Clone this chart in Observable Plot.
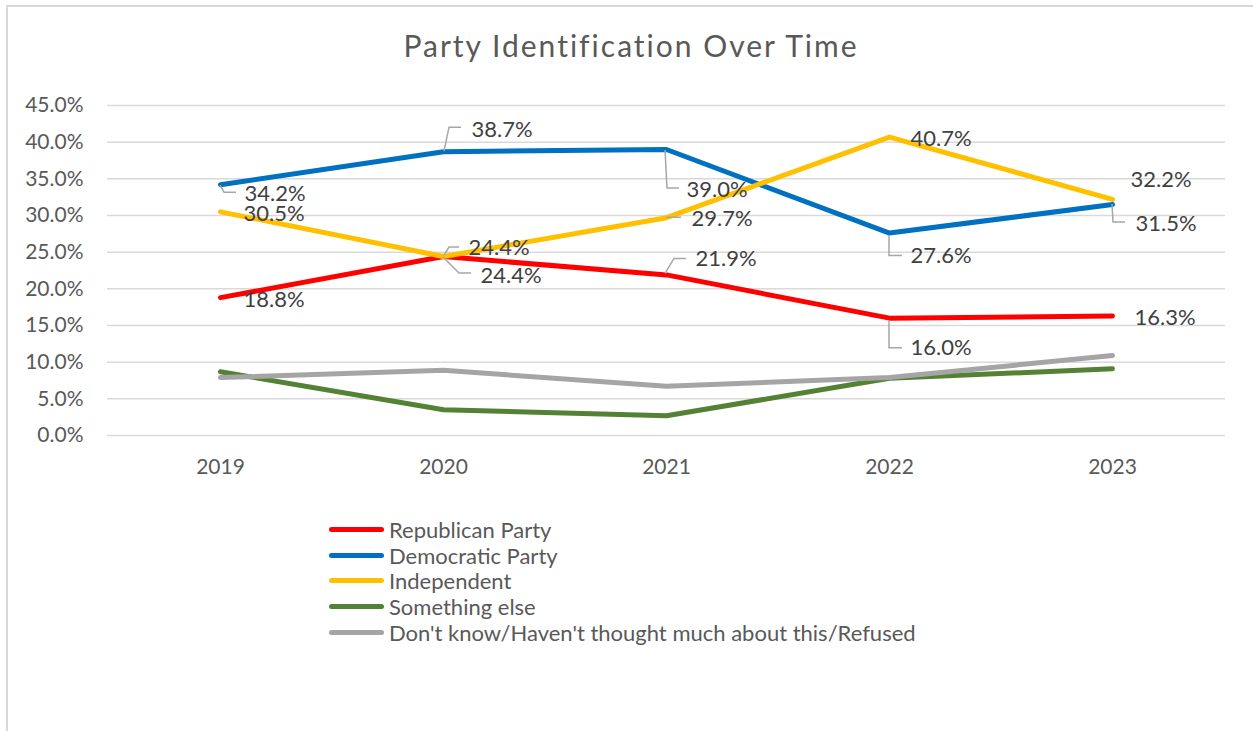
<!DOCTYPE html>
<html><head><meta charset="utf-8">
<script src="https://cdn.jsdelivr.net/npm/d3@7"></script>
<script src="https://cdn.jsdelivr.net/npm/@observablehq/plot@0.6"></script>
<style>
body{margin:0;background:#fff;font-family:Lato,sans-serif;}
#wrap{position:relative;width:1253px;height:731px;overflow:hidden;background:#fff;}
.bt{position:absolute;left:6px;top:5px;width:1247px;height:2px;background:#d9d9d9;}
.bl{position:absolute;left:6px;top:5px;width:2px;height:726px;background:#d9d9d9;}
#title{position:absolute;left:0;width:1262px;top:27px;text-align:center;font-size:30px;letter-spacing:2px;color:#595959;white-space:nowrap;}
#chart{position:absolute;left:0;top:75px;}
#legend{position:absolute;left:329px;top:517px;}
.row{display:flex;align-items:center;height:25.6px;font-size:22px;color:#595959;white-space:nowrap;}
.sw{width:55px;height:5px;border-radius:2.5px;margin-right:5px;}
</style></head><body>
<div id="wrap">
  <div class="bt"></div><div class="bl"></div>
  <div id="title">Party Identification Over Time</div>
  <div id="chart"></div>
  <div id="legend"></div>
</div>
<script>
const years = ["2019", "2020", "2021", "2022", "2023"];
const seriesNames = ["Republican Party", "Democratic Party", "Independent", "Something else", "Don't know/Haven't thought much about this/Refused"];
const republican = [18.8, 24.4, 21.9, 16.0, 16.3];
const democratic = [34.2, 38.7, 39.0, 27.6, 31.5];
const independent = [30.5, 24.4, 29.7, 40.7, 32.2];
const somethingElse = [8.7, 3.5, 2.7, 7.8, 9.1];
const dontKnow = [7.9, 8.9, 6.7, 7.9, 10.9];
const yTicks = [0, 5, 10, 15, 20, 25, 30, 35, 40, 45];
const seriesColors = ["#FF0000", "#0070C0", "#FFC000", "#548235", "#A5A5A5"];
const labeledSeries = ["Republican Party", "Democratic Party", "Independent"];

const seriesValues = [republican, democratic, independent, somethingElse, dontKnow];
const rows = [];
seriesNames.forEach((s, k) => years.forEach((y, i) => rows.push({series: s, year: y, value: seriesValues[k][i]})));

// label placement (pixel offsets from each point; leader polylines in pixels)
const labelLayout = {
  "Republican Party": [
    {dx: 23, dy: 2},
    {dx: 37, dy: 19, leader: [[0, 1], [16, 17], [28, 17]]},
    {dx: 29, dy: -16, leader: [[-1, -1], [8, -16], [20, -16]]},
    {dx: 21, dy: 30, leader: [[0, 3], [0, 30], [13, 30]]},
    {dx: 22, dy: 1.5}
  ],
  "Democratic Party": [
    {dx: 24, dy: 9, leader: [[0, 1], [4, 8], [16, 8]]},
    {dx: 28, dy: -22, leader: [[1, 0], [6, -24], [18, -24]]},
    {dx: 20, dy: 40, leader: [[-1, 1], [1, 39], [13, 39]]},
    {dx: 21, dy: 23, leader: [[0, 3], [0, 23], [13, 23]]},
    {dx: 23, dy: 19, leader: [[0, 0], [1, 18], [13, 18]]}
  ],
  "Independent": [
    {dx: 23, dy: 2.5},
    {dx: 25, dy: -9, leader: [[1, -1], [6, -9], [16, -9]]},
    {dx: 25, dy: 1, leader: [[0, 0], [15, 0]]},
    {dx: 21, dy: 1.5},
    {dx: 18, dy: -19}
  ]
};

const labelItems = [];
labeledSeries.forEach(s => {
  const k = seriesNames.indexOf(s);
  years.forEach((y, i) => labelItems.push({series: s, year: y, value: seriesValues[k][i], ...labelLayout[s][i]}));
});

function leaderMark(index, scales) {
  const g = d3.create("svg:g").attr("fill", "none").attr("stroke", "#a6a6a6").attr("stroke-width", 1.5);
  for (const L of labelItems) {
    if (!L.leader) continue;
    const px = scales.x(L.year), py = scales.y(L.value);
    g.append("polyline").attr("points", L.leader.map(([a, b]) => `${px + a},${py + b}`).join(" "));
  }
  return g.node();
}

const labelMarks = labelItems.map(L => Plot.text([L], {
  x: "year", y: "value", text: d => d.value.toFixed(1) + "%",
  dx: L.dx, dy: L.dy, textAnchor: "start", fill: "#404040", fontSize: 22
}));

const chart = Plot.plot({
  width: 1253, height: 430,
  marginTop: 30, marginBottom: 70, marginLeft: 107, marginRight: 28,
  style: {fontFamily: "Lato, sans-serif", fontSize: "21px", color: "#595959", background: "transparent"},
  x: {type: "point", domain: years, padding: 0.5, label: null},
  y: {domain: [0, 45], label: null},
  color: {domain: seriesNames, range: seriesColors},
  marks: [
    Plot.gridY(yTicks, {stroke: "#d9d9d9", strokeOpacity: 1, strokeWidth: 1.5}),
    Plot.axisY(yTicks, {tickSize: 0, tickPadding: 24, tickFormat: d => d.toFixed(1) + "%", fill: "#595959", label: null}),
    Plot.axisX({tickSize: 0, tickPadding: 24, fill: "#595959", label: null}),
    Plot.line(rows, {x: "year", y: "value", z: "series", stroke: "series", strokeWidth: 5, strokeLinecap: "round", strokeLinejoin: "round"}),
    leaderMark,
    ...labelMarks
  ]
});
document.getElementById("chart").appendChild(chart);

const legend = document.getElementById("legend");
seriesNames.forEach((s, k) => {
  const row = document.createElement("div");
  row.className = "row";
  const sw = document.createElement("span");
  sw.className = "sw";
  sw.style.background = seriesColors[k];
  const tx = document.createElement("span");
  tx.textContent = s;
  row.appendChild(sw); row.appendChild(tx);
  legend.appendChild(row);
});
</script>
</body></html>
